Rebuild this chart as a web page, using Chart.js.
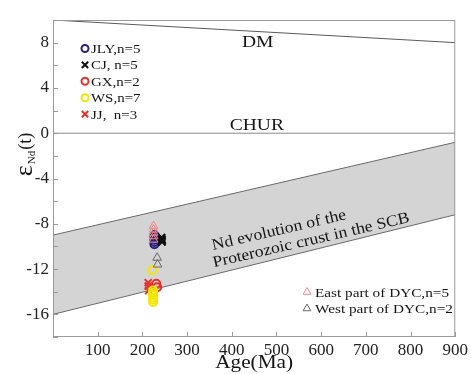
<!DOCTYPE html>
<html lang="en">
  <head>
    <meta charset="UTF-8" />
    <title>Nd evolution</title>
    <style>
      html,
      body {
        margin: 0;
        padding: 0;
        background: #fff;
      }
    </style>
  </head>
  <body>
    <canvas id="ndChart" width="471" height="374"></canvas>

    <script src="https://cdn.jsdelivr.net/npm/chart.js@4.4.0/dist/chart.umd.min.js"></script>
    <script>
      // samples: age (Ma) and eNd(t)
      const jlyAge = [227, 227, 227, 227, 227];
      const jlyEps = [-9.0, -9.2, -9.4, -9.6, -9.8];
      const cjAge = [243, 243, 244, 244, 244];
      const cjEps = [-9.2, -9.3, -9.4, -9.5, -9.6];
      const gxAge = [231, 233];
      const gxEps = [-13.3, -13.6];
      const wsAge = [222, 224, 224, 224, 224, 224, 224];
      const wsEps = [-12.1, -13.9, -14.1, -14.3, -14.5, -14.7, -14.9];
      const jjAge = [213, 213, 214];
      const jjEps = [-13.2, -13.5, -13.9];
      const eastAge = [225, 225, 225, 225, 225];
      const eastEps = [-8.2, -8.5, -8.8, -9.1, -9.4];
      const westAge = [233, 234];
      const westEps = [-11.0, -11.6];

      // reference curves
      const dmAge = [0, 900];
      const dmEps = [10, 8];
      const churAge = [0, 900];
      const churEps = [0, 0];
      const bandAge = [0, 900];
      const bandTop = [-9, -0.8];
      const bandBottom = [-16, -7.2];

      // tick labels
      const xTickLabels = [100, 200, 300, 400, 500, 600, 700, 800, 900];
      const yTickLabels = [8, 4, 0, -4, -8, -12, -16];

      const serif = "'Liberation Serif', 'Times New Roman', serif";
      Chart.defaults.font.family = serif;
      Chart.defaults.color = "#222";

      const toXY = (xs, ys) => xs.map((x, i) => ({ x: x, y: ys[i] }));

      const curve = (xs, ys, extra) =>
        Object.assign(
          {
            type: "line",
            data: toXY(xs, ys),
            borderColor: "#6a6a6a",
            borderWidth: 1,
            pointRadius: 0,
            showLine: true,
            fill: false,
            order: 10,
          },
          extra
        );

      const group = (label, xs, ys, style, color, radius) => ({
        label: label,
        data: toXY(xs, ys),
        pointStyle: style,
        pointRadius: radius,
        pointBorderColor: color,
        pointBackgroundColor: "rgba(0,0,0,0)",
        pointBorderWidth: style == "triangle" ? 1 : 2,
        borderColor: color,
        backgroundColor: "rgba(0,0,0,0)",
        order: 1,
      });

      const datasets = [
        curve(bandAge, bandTop, { label: "band top" }),
        curve(bandAge, bandBottom, {
          label: "band bottom",
          fill: "-1",
          backgroundColor: "#d4d4d4",
        }),
        curve(dmAge, dmEps, { label: "DM", borderColor: "#5a5a5a" }),
        curve(churAge, churEps, { label: "CHUR", borderColor: "#8a8a8a" }),
        group("East part of DYC,n=5", eastAge, eastEps, "triangle", "#ec8a84", 5),
        group("West part of DYC,n=2", westAge, westEps, "triangle", "#6a6a6a", 5),
        group("WS,n=7", wsAge, wsEps, "circle", "#f4e600", 4),
        group("GX,n=2", gxAge, gxEps, "circle", "#e8302a", 4),
        group("JJ,  n=3", jjAge, jjEps, "crossRot", "#e8302a", 5),
        group("CJ, n=5", cjAge, cjEps, "crossRot", "#111111", 5),
        group("JLY,n=5", jlyAge, jlyEps, "circle", "#25217e", 4),
      ];

      // legend rows (dataset index)
      const legendTopLeft = [10, 9, 7, 6, 8];
      const legendBottomRight = [4, 5];

      function wideText(ctx, text, x, y, sx, align) {
        ctx.save();
        ctx.translate(x, y);
        ctx.scale(sx, 1);
        ctx.textAlign = align || "left";
        ctx.fillText(text, 0, 0);
        ctx.restore();
      }

      function marker(ctx, ds, x, y) {
        ctx.save();
        ctx.strokeStyle = ds.pointBorderColor;
        ctx.fillStyle = ds.pointBackgroundColor;
        ctx.lineWidth = ds.pointBorderWidth;
        Chart.helpers.drawPoint(
          ctx,
          { pointStyle: ds.pointStyle, radius: ds.pointStyle == "circle" ? 3.5 : 4.5, rotation: 0, borderWidth: ds.pointBorderWidth },
          x,
          y
        );
        ctx.restore();
      }

      const decorations = {
        id: "decorations",
        afterDraw(chart) {
          const ctx = chart.ctx;
          const a = chart.chartArea;
          const xs = chart.scales.x;
          const ys = chart.scales.y;

          // frame
          ctx.save();
          ctx.strokeStyle = "#9a9a9a";
          ctx.lineWidth = 1;
          ctx.strokeRect(a.left + 0.5, a.top + 0.5, a.right - a.left - 1, a.bottom - a.top - 1);

          // inward ticks
          ctx.beginPath();
          xs.ticks.forEach((t) => {
            const px = Math.round(xs.getPixelForValue(t.value)) + 0.5;
            ctx.moveTo(px, a.bottom);
            ctx.lineTo(px, a.bottom - 5);
          });
          ys.ticks.forEach((t) => {
            const py = Math.round(ys.getPixelForValue(t.value)) + 0.5;
            ctx.moveTo(a.left, py);
            ctx.lineTo(a.left + 5, py);
          });
          ctx.stroke();

          ctx.fillStyle = "#151515";
          ctx.textBaseline = "alphabetic";

          // curve labels
          ctx.font = "17px " + serif;
          wideText(ctx, "DM", xs.getPixelForValue(458), ys.getPixelForValue(7.6), 1.15, "center");
          wideText(ctx, "CHUR", xs.getPixelForValue(456), ys.getPixelForValue(0.3), 1.15, "center");

          // band label
          ctx.save();
          ctx.translate(213, 250);
          ctx.rotate((-13 * Math.PI) / 180);
          ctx.font = "16px " + serif;
          wideText(ctx, "Nd evolution of the", 0, 0, 1.1);
          wideText(ctx, "Proterozoic crust in the SCB", -3, 17, 1.1);
          ctx.restore();

          // axis titles
          ctx.font = "19px " + serif;
          wideText(ctx, "Age(Ma)", (a.left + a.right) / 2, 368, 1.12, "center");

          ctx.save();
          ctx.translate(32, 154);
          ctx.rotate(-Math.PI / 2);
          const parts = [
            ["ε", "26px ", 0],
            ["Nd", "11px ", 3],
            ["(t)", "18px ", -1],
          ];
          let total = 0;
          parts.forEach((p) => {
            ctx.font = p[1] + serif;
            total += ctx.measureText(p[0]).width + 1;
          });
          let cx = -total / 2;
          parts.forEach((p) => {
            ctx.font = p[1] + serif;
            ctx.textAlign = "left";
            ctx.fillText(p[0], cx, p[2]);
            cx += ctx.measureText(p[0]).width + 1;
          });
          ctx.restore();

          // legends
          ctx.font = "13px " + serif;
          ctx.textBaseline = "middle";
          legendTopLeft.forEach((idx, i) => {
            const y = 48.5 + i * 16.4;
            marker(ctx, chart.data.datasets[idx], 85, y);
            ctx.fillStyle = "#151515";
            wideText(ctx, chart.data.datasets[idx].label, 91, y + 1, 1.15);
          });
          ctx.font = "13.5px " + serif;
          legendBottomRight.forEach((idx, i) => {
            const y = 292 + i * 16.5;
            marker(ctx, chart.data.datasets[idx], 307, y);
            ctx.fillStyle = "#151515";
            wideText(ctx, chart.data.datasets[idx].label, 315, y + 1, 1.13);
          });
          ctx.restore();
        },
      };

      new Chart(document.getElementById("ndChart"), {
        type: "scatter",
        data: { datasets: datasets },
        options: {
          responsive: false,
          animation: false,
          layout: { padding: { top: 20, right: 13, left: 0, bottom: 0 } },
          plugins: {
            legend: { display: false },
            tooltip: { enabled: false },
          },
          scales: {
            x: {
              type: "linear",
              min: 0,
              max: 900,
              ticks: {
                stepSize: 100,
                padding: 3,
                autoSkip: false,
                font: { size: 17 },
                maxRotation: 0,
                callback: (v) => (xTickLabels.includes(v) ? v : ""),
              },
              grid: { display: false, drawTicks: false },
              border: { display: false },
              afterFit: (s) => {
                s.height = 37;
              },
            },
            y: {
              min: -18,
              max: 10,
              ticks: {
                stepSize: 2,
                padding: 4,
                autoSkip: false,
                font: { size: 17 },
                callback: (v) => (yTickLabels.includes(v) ? v : ""),
              },
              grid: { display: false, drawTicks: false },
              border: { display: false },
              afterFit: (s) => {
                s.width = 53;
              },
            },
          },
        },
        plugins: [decorations],
      });
    </script>
  </body>
</html>
